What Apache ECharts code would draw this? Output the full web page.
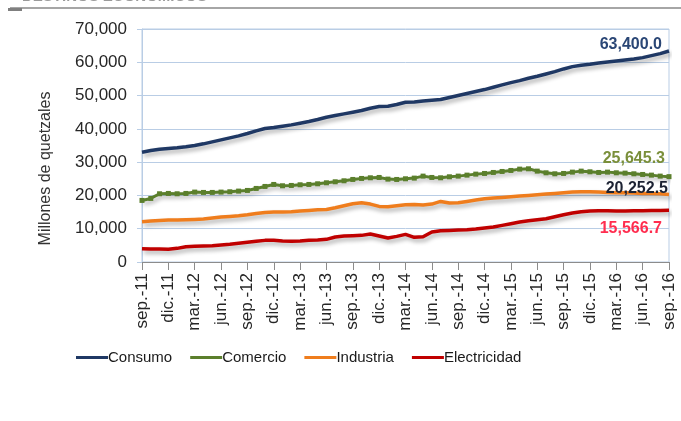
<!DOCTYPE html>
<html>
<head>
<meta charset="utf-8">
<script src="https://cdn.jsdelivr.net/npm/echarts/dist/echarts.min.js"></script>
<style>
  html, body { margin: 0; padding: 0; background: #fff; }
  #chart { width: 681px; height: 421px; }
</style>
</head>
<body>
<div id="chart"></div>
<script>
// months sep-11 .. sep-16, labels shown every quarter
const monthNames = ["ene.", "feb.", "mar.", "abr.", "may.", "jun.", "jul.", "ago.", "sep.", "oct.", "nov.", "dic."];
const years = ["11", "12", "13", "14", "15", "16"];

const categories = [];
for (let y = 0; y < years.length; y++) {
  for (let m = 0; m < 12; m++) {
    if (y === 0 && m < 8) continue;
    if (y === years.length - 1 && m > 8) continue;
    categories.push(monthNames[m] + "-" + years[y]);
  }
}

const consumo = [
  33000, 33500, 33900, 34100, 34300, 34600, 35000, 35500, 36100, 36700,
  37300, 37900, 38600, 39400, 40100, 40400, 40800, 41200, 41700, 42200,
  42800, 43500, 44000, 44500, 45000, 45500, 46200, 46700, 46800, 47300,
  48000, 48100, 48400, 48600, 48800, 49400, 50000, 50600, 51200, 51800,
  52500, 53200, 53900, 54500, 55200, 55800, 56500, 57200, 58000, 58700,
  59100, 59400, 59800, 60100, 60400, 60700, 61000, 61400, 62000, 62600,
  63400.0
];
const comercio = [
  18500, 19100, 20500, 20600, 20500, 20600, 21000, 20900, 20900, 21000,
  21100, 21300, 21500, 22100, 22700, 23300, 22900, 23000, 23200, 23300,
  23500, 23800, 24100, 24400, 24800, 25100, 25300, 25400, 24900, 24800,
  25000, 25200, 25800, 25400, 25300, 25600, 25800, 26100, 26400, 26600,
  26900, 27200, 27500, 27900, 28000, 27300, 26800, 26500, 26600, 27000,
  27300, 27100, 26900, 27000, 26800, 26700, 26500, 26300, 26100, 25800,
  25645.3
];
const industria = [
  12100, 12300, 12500, 12600, 12600, 12700, 12800, 12900, 13200, 13500,
  13700, 13900, 14200, 14600, 14900, 15000, 15000, 15100, 15300, 15500,
  15700, 15800, 16300, 16900, 17500, 17800, 17400, 16700, 16600, 16900,
  17200, 17300, 17100, 17400, 18200, 17700, 17800, 18200, 18600, 19000,
  19200, 19400, 19600, 19800, 20000, 20200, 20400, 20600, 20800, 21000,
  21100, 21100, 21000, 20900, 20800, 20800, 20700, 20600, 20600, 20500,
  20252.5
];
const electricidad = [
  4000, 3900, 3900, 3800, 4100, 4600, 4700, 4800, 4900, 5100,
  5300, 5600, 5900, 6200, 6500, 6500, 6300, 6200, 6300, 6500,
  6600, 6800, 7500, 7800, 7900, 8000, 8400, 7800, 7200, 7700,
  8300, 7400, 7600, 9000, 9400, 9500, 9600, 9700, 9900, 10200,
  10500, 11000, 11500, 12000, 12400, 12700, 13000, 13600, 14200, 14700,
  15100, 15300, 15400, 15400, 15300, 15300, 15400, 15400, 15500, 15500,
  15566.7
];

const chart = echarts.init(document.getElementById("chart"));

const font = "Liberation Sans, Arial, sans-serif";
const gridBlue = "#b9cde5";
const shadow = {
  shadowColor: "rgba(0,0,0,0.32)",
  shadowBlur: 4,
  shadowOffsetX: 2,
  shadowOffsetY: 3
};

function fmt(v) {
  return v.toLocaleString("en-US", { minimumFractionDigits: 1, maximumFractionDigits: 1 });
}

function lineSeries(name, data, color, labelColor, offset, extra) {
  return Object.assign({
    name: name,
    type: "line",
    data: data,
    symbol: "none",
    lineStyle: Object.assign({ color: color, width: 3.5 }, shadow),
    itemStyle: { color: color },
    endLabel: {
      show: true,
      formatter: (p) => fmt(p.value),
      color: labelColor,
      fontFamily: font,
      fontSize: 16,
      fontWeight: "bold",
      align: "right",
      offset: offset
    },
    animation: false
  }, extra || {});
}

chart.setOption({
  animation: false,
  grid: {
    left: 142, right: 12, top: 29, bottom: 159,
    show: true, borderColor: gridBlue, borderWidth: 1
  },
  graphic: [
    { type: "text", x: 22, y: -11,
      style: { text: "DESTINOS ECONÓMICOS", fill: "#9a9a9a", font: "bold 15px " + font } },
    { type: "line", shape: { x1: 10, y1: 8, x2: 681, y2: 8 },
      style: { stroke: "#a6a6a6", lineWidth: 2 } },
    { type: "line", shape: { x1: 8, y1: 9.5, x2: 22, y2: 9.5 },
      style: { stroke: "#7f7f7f", lineWidth: 3 } }
  ],
  legend: {
    left: 71, top: 345,
    icon: "rect", itemWidth: 32, itemHeight: 3, itemGap: 18,
    textStyle: { fontFamily: font, fontSize: 15, color: "#1a1a1a", padding: [0, 0, 0, -5] },
    data: ["Consumo", "Comercio", "Industria", "Electricidad"]
  },
  xAxis: {
    type: "category",
    data: categories,
    boundaryGap: false,
    axisLine: { lineStyle: { color: "#8c8c8c", width: 1 } },
    axisTick: { interval: 2, length: 8, lineStyle: { color: "#8c8c8c" } },
    axisLabel: {
      interval: 2, rotate: 90, margin: 11,
      fontFamily: font, fontSize: 17, color: "#262626"
    },
    splitLine: { show: false }
  },
  yAxis: {
    type: "value",
    min: 0, max: 70000, interval: 10000,
    name: "Millones de quetzales",
    nameLocation: "middle",
    nameGap: 88,
    nameTextStyle: { fontFamily: font, fontSize: 16, color: "#333", padding: [0, 46, 0, 0] },
    axisLine: { show: true, lineStyle: { color: gridBlue } },
    axisTick: { show: true, length: 5, lineStyle: { color: gridBlue } },
    axisLabel: { margin: 15, fontFamily: font, fontSize: 17, color: "#262626" },
    splitLine: { lineStyle: { color: gridBlue, width: 1 } }
  },
  series: [
    lineSeries("Consumo", consumo, "#1f3864", "#2a4675", [-15, -6]),
    lineSeries("Comercio", comercio, "#5b7f2c", "#7a8f3a", [-12, -18]),
    lineSeries("Industria", industria, "#ef7d1d", "#1c2233", [-9, -6]),
    lineSeries("Electricidad", electricidad, "#c00000", "#ff2d4f", [-15, 18])
  ].map((s) => s.name === "Comercio"
    ? Object.assign(s, { symbol: "rect", symbolSize: 5, showSymbol: true,
        lineStyle: Object.assign({ color: "#5b7f2c", width: 3 }, shadow) })
    : s)
});
</script>
</body>
</html>
